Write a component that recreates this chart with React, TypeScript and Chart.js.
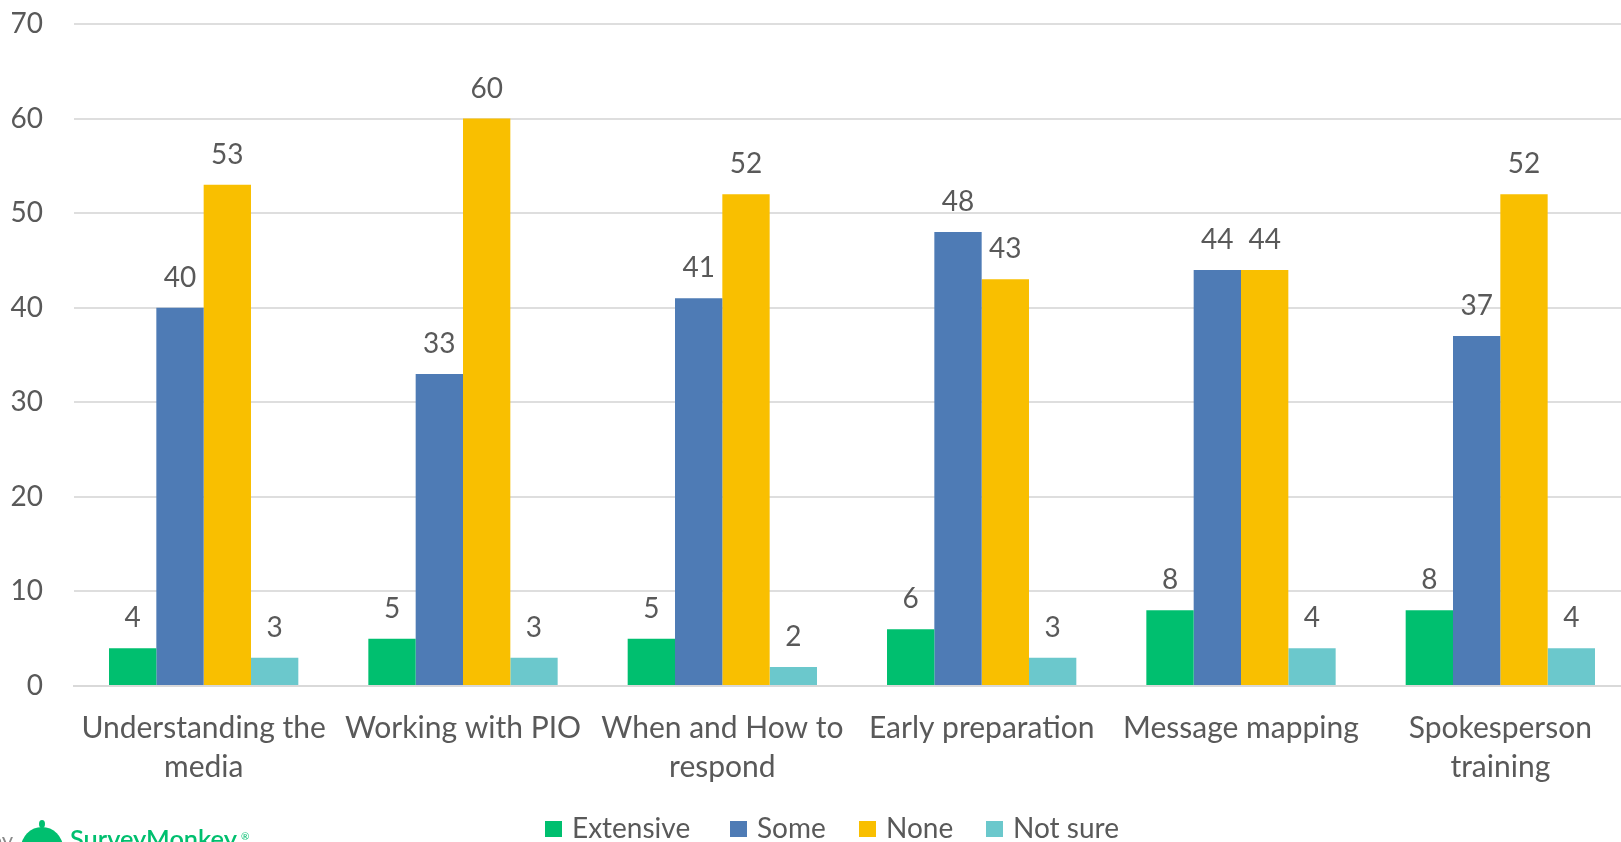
import React, { useEffect, useRef } from "react";
import { Chart, registerables } from "chart.js";

Chart.register(...registerables);

const categories: (string | string[])[] = [
  ["Understanding the", "media"],
  "Working with PIO",
  ["When and How to", "respond"],
  "Early preparation",
  "Message mapping",
  ["Spokesperson", "training"],
];

const seriesNames = ["Extensive", "Some", "None", "Not sure"];
const extensive = [4, 5, 5, 6, 8, 8];
const some = [40, 33, 41, 48, 44, 37];
const none = [53, 60, 52, 43, 44, 52];
const notSure = [3, 3, 2, 3, 4, 4];
const seriesColors = ["#00BF6F", "#4E7BB5", "#F9BF00", "#6BC8CC"];

const yMin = 0;
const yMax = 70;
const yStep = 10;

const FONT = "Lato, 'Open Sans', sans-serif";
const TEXT = "#595959";
const LEGEND_X = [545, 730, 859, 986];

const dataLabelPlugin = {
  id: "dataLabels",
  afterDatasetsDraw(chart: any) {
    const ctx = chart.ctx;
    ctx.save();
    ctx.font = `28px ${FONT}`;
    ctx.fillStyle = TEXT;
    ctx.textAlign = "center";
    ctx.textBaseline = "middle";
    chart.data.datasets.forEach((ds: any, i: number) => {
      const meta = chart.getDatasetMeta(i);
      meta.data.forEach((el: any, j: number) => {
        ctx.fillText(String(ds.data[j]), el.x, el.y - 30);
      });
    });
    ctx.restore();
  },
};

const legendPlugin = {
  id: "customLegend",
  afterDraw(chart: any) {
    const ctx = chart.ctx;
    ctx.save();
    ctx.font = `28px ${FONT}`;
    ctx.textBaseline = "middle";
    ctx.textAlign = "left";
    chart.data.datasets.forEach((ds: any, i: number) => {
      const x = LEGEND_X[i];
      ctx.fillStyle = ds.backgroundColor;
      ctx.fillRect(x, 821, 17, 16);
      ctx.fillStyle = TEXT;
      ctx.fillText(ds.label, x + 27, 829);
    });
    // SurveyMonkey credit (cropped at bottom)
    ctx.fillStyle = "#8a8a8a";
    ctx.font = `22px ${FONT}`;
    ctx.textAlign = "right";
    ctx.textBaseline = "alphabetic";
    ctx.fillText("by", 13, 848);
    ctx.fillStyle = "#00BF6F";
    ctx.beginPath();
    ctx.arc(42, 848, 21, 0, Math.PI * 2);
    ctx.fill();
    ctx.beginPath();
    ctx.ellipse(42, 824, 3, 4, 0, 0, Math.PI * 2);
    ctx.fill();
    ctx.textAlign = "left";
    ctx.font = `600 27px ${FONT}`;
    const w = ctx.measureText("SurveyMonkey").width;
    const size = (27 * 167) / w;
    ctx.font = `600 ${size}px ${FONT}`;
    ctx.fillText("SurveyMonkey", 70, 830 + size * 0.72);
    ctx.font = `10px ${FONT}`;
    ctx.textBaseline = "middle";
    ctx.fillText("®", 241, 837);
    ctx.restore();
  },
};

export default function App() {
  const ref = useRef<HTMLCanvasElement>(null);
  useEffect(() => {
    document.body.style.margin = "0";
    document.body.style.overflow = "hidden";
    const values = [extensive, some, none, notSure];
    const chart = new Chart(ref.current!, {
      type: "bar",
      data: {
        labels: categories,
        datasets: seriesNames.map((name, i) => ({
          label: name,
          data: values[i],
          backgroundColor: seriesColors[i],
          borderWidth: 0,
          barPercentage: 1,
          categoryPercentage: 0.73,
        })),
      },
      options: {
        responsive: false,
        animation: false,
        maintainAspectRatio: false,
        layout: { padding: 0 },
        plugins: {
          legend: { display: false },
          tooltip: { enabled: false },
        },
        scales: {
          x: {
            grid: { display: false, drawTicks: false },
            border: { display: true, color: "#D9D9D9", width: 2 },
            ticks: {
              color: TEXT,
              font: { family: FONT, size: 30, lineHeight: 1.3 },
              padding: 23,
              maxRotation: 0,
              autoSkip: false,
            },
            afterFit(scale: any) {
              scale.height = 156;
              scale.paddingLeft = 0;
              scale.paddingRight = 0;
            },
          },
          y: {
            min: yMin,
            max: yMax,
            grid: { color: "#DEDEDE", lineWidth: 2, drawTicks: false },
            border: { display: false },
            ticks: {
              stepSize: yStep,
              color: TEXT,
              font: { family: FONT, size: 28 },
              padding: 31,
            },
            afterFit(scale: any) {
              scale.width = 74;
              scale.paddingTop = 24;
              scale.paddingBottom = 0;
            },
          },
        },
      },
      plugins: [dataLabelPlugin, legendPlugin],
    });
    return () => chart.destroy();
  }, []);
  return (
    <div style={{ width: 1621, height: 842, overflow: "hidden" }}>
      <canvas ref={ref} width={1630} height={842} style={{ display: "block" }} />
    </div>
  );
}
